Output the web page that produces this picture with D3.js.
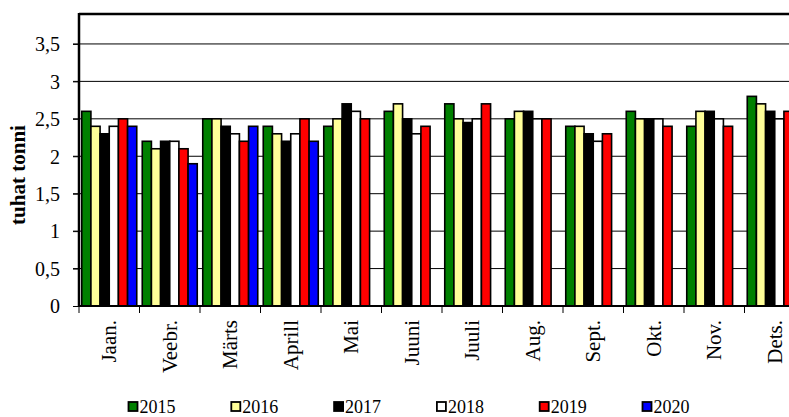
<!DOCTYPE html>
<html>
<head>
<meta charset="utf-8">
<script src="https://cdn.jsdelivr.net/npm/d3@7"></script>
<style>
  html, body { margin: 0; padding: 0; background: #fff; overflow: hidden; }
  svg { display: block; font-family: "Liberation Serif", "Times New Roman", serif; }
  svg text { font-family: "Liberation Serif", "Times New Roman", serif; }
</style>
</head>
<body>
<svg id="chart" width="789" height="417"></svg>
<script>
const months = ["Jaan.", "Veebr.", "Märts", "Aprill", "Mai", "Juuni", "Juuli", "Aug.", "Sept.", "Okt.", "Nov.", "Dets."];
const years = ["2015", "2016", "2017", "2018", "2019", "2020"];
const v2015 = [2.6, 2.2, 2.5, 2.4, 2.4, 2.6, 2.7, 2.5, 2.4, 2.6, 2.4, 2.8];
const v2016 = [2.4, 2.1, 2.5, 2.3, 2.5, 2.7, 2.5, 2.6, 2.4, 2.5, 2.6, 2.7];
const v2017 = [2.3, 2.2, 2.4, 2.2, 2.7, 2.5, 2.45, 2.6, 2.3, 2.5, 2.6, 2.6];
const v2018 = [2.4, 2.2, 2.3, 2.3, 2.6, 2.3, 2.5, 2.5, 2.2, 2.5, 2.5, 2.5];
const v2019 = [2.5, 2.1, 2.2, 2.5, 2.5, 2.4, 2.7, 2.5, 2.3, 2.4, 2.4, 2.6];
const v2020 = [2.4, 1.9, 2.4, 2.2, null, null, null, null, null, null, null, null];
const yTicks = [0, 0.5, 1, 1.5, 2, 2.5, 3, 3.5];
const yTickLabels = ["0", "0,5", "1", "1,5", "2", "2,5", "3", "3,5"];
const colors = ["#008000", "#ffff99", "#000000", "#ffffff", "#ff0000", "#0000ff"];
const yTitle = "tuhat tonni";

const seriesValues = [v2015, v2016, v2017, v2018, v2019, v2020];

(function () {
const FONT = "'Liberation Serif', 'Times New Roman', serif";
const svg = d3.select("#chart");
const pL = 79, pR = 805, pT = 14, pB = 306;

const x0 = d3.scaleBand().domain(months).range([pL, pR]).paddingInner(0).paddingOuter(0);
const x1 = d3.scaleBand().domain(years).range([0, x0.bandwidth()]).paddingInner(0).paddingOuter(0.3);
const y = d3.scaleLinear().domain([0, 3.9]).range([pB, pT]);

// gridlines
const grid = svg.append("g");
yTicks.filter(t => t > 0).forEach(t => {
  grid.append("line")
    .attr("x1", pL - 6).attr("x2", pR)
    .attr("y1", y(t)).attr("y2", y(t))
    .attr("stroke", "#000").attr("stroke-width", 1);
});

// y axis labels
const yAxis = d3.axisLeft(y).tickValues(yTicks).tickSize(6)
  .tickFormat((d, i) => yTickLabels[i]);
const yg = svg.append("g").attr("transform", `translate(${pL},0)`).call(yAxis)
  .attr("font-family", FONT);
yg.select(".domain").remove();
yg.selectAll(".tick line").attr("stroke", "#000");
yg.selectAll(".tick text")
  .attr("font-family", FONT)
  .attr("font-size", 20).attr("fill", "#000")
  .attr("x", -19).attr("dy", "0.34em");

// bars
const groups = svg.append("g").selectAll("g")
  .data(months).join("g")
  .attr("transform", d => `translate(${x0(d)},0)`);

groups.selectAll("rect")
  .data((m, mi) => years.map((yr, si) => ({ yr, si, v: seriesValues[si][mi] })).filter(d => d.v != null))
  .join("rect")
  .attr("x", d => x1(d.yr))
  .attr("width", x1.bandwidth())
  .attr("y", d => y(d.v))
  .attr("height", d => y(0) - y(d.v))
  .attr("fill", d => colors[d.si])
  .attr("stroke", "#000")
  .attr("stroke-width", 1.6);

// x axis boundary ticks
const xAxis = d3.axisBottom(x0).tickSize(0).tickFormat("");
const xg = svg.append("g").attr("transform", `translate(0,${pB})`).call(xAxis);
xg.select(".domain").remove();
const boundaries = months.map(m => x0(m));
svg.append("g").selectAll("line").data(boundaries).join("line")
  .attr("x1", d => d).attr("x2", d => d)
  .attr("y1", pB).attr("y2", pB + 7)
  .attr("stroke", "#000").attr("stroke-width", 1);

// month labels
svg.append("g").selectAll("text").data(months).join("text")
  .attr("transform", d => `translate(${x0(d) + x0.bandwidth() / 2 + 7},320) rotate(-90)`)
  .attr("text-anchor", "end")
  .attr("font-family", FONT)
  .attr("font-size", 21)
  .attr("fill", "#000")
  .text(d => d);

// frame
svg.append("line").attr("x1", pL).attr("x2", pR).attr("y1", pT).attr("y2", pT)
  .attr("stroke", "#000").attr("stroke-width", 2.5);
svg.append("line").attr("x1", pL).attr("x2", pL).attr("y1", pT - 1).attr("y2", pB + 1)
  .attr("stroke", "#000").attr("stroke-width", 2.5);
svg.append("line").attr("x1", pL).attr("x2", pR).attr("y1", pB).attr("y2", pB)
  .attr("stroke", "#000").attr("stroke-width", 2);

// y title
svg.append("text")
  .attr("transform", "translate(25,175) rotate(-90)")
  .attr("text-anchor", "middle")
  .attr("font-family", FONT)
  .attr("font-size", 21)
  .attr("font-weight", "bold")
  .attr("fill", "#000")
  .text(yTitle);

// legend
const legX = d3.scalePoint().domain(years).range([128.5, 128.5 + 102.8 * 5]);
const leg = svg.append("g").selectAll("g").data(years).join("g")
  .attr("transform", d => `translate(${legX(d)},402)`);
leg.append("rect").attr("x", 0).attr("y", 0).attr("width", 9).attr("height", 9)
  .attr("fill", (d, i) => colors[i]).attr("stroke", "#000").attr("stroke-width", 1.8);
leg.append("text").attr("x", 11).attr("y", 10.8)
  .attr("font-family", FONT)
  .attr("font-size", 18).attr("fill", "#000")
  .text(d => d);
})();
</script>
</body>
</html>
